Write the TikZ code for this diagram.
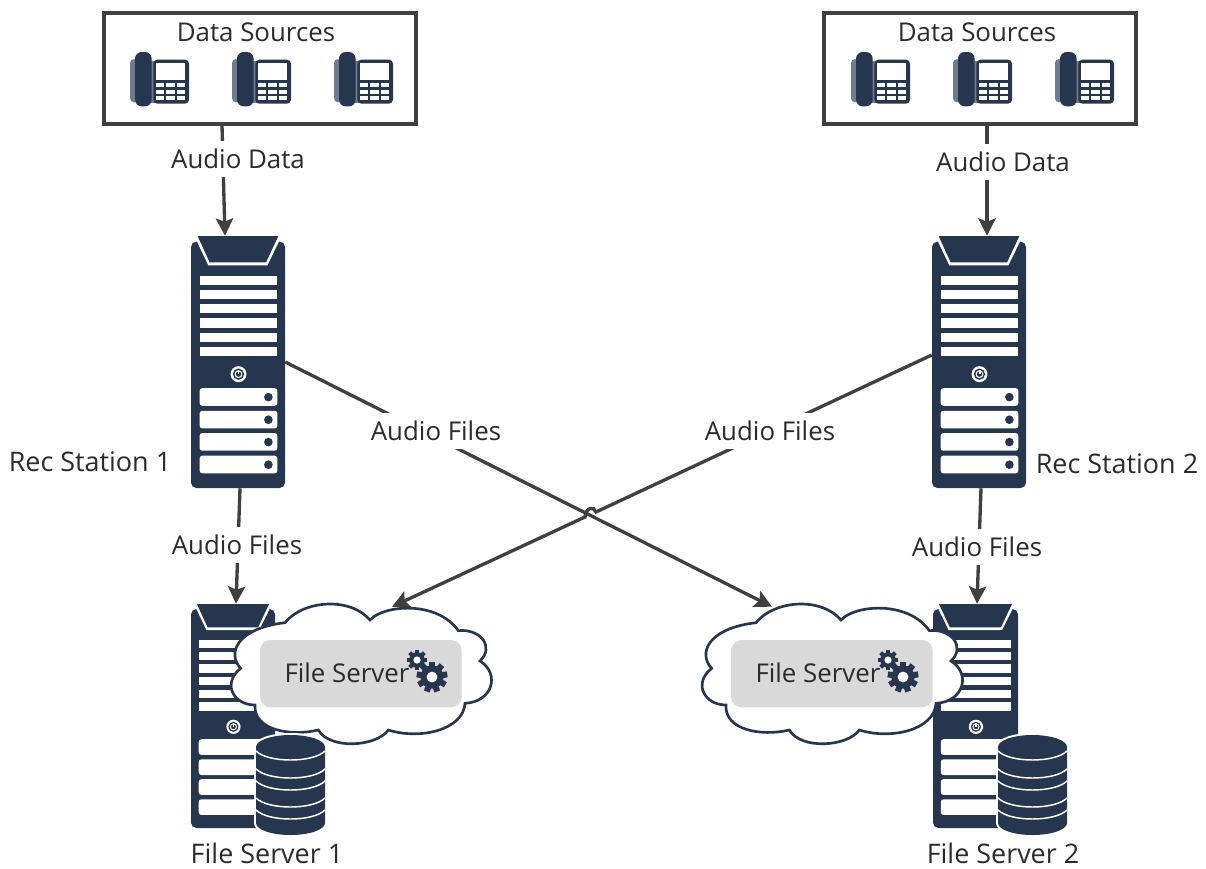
\documentclass[tikz,border=0pt]{standalone}
\usepackage{fontspec}
\setmainfont{Open Sans}
\usetikzlibrary{arrows.meta,calc}
\definecolor{navy}{HTML}{26364F}
\definecolor{navylt}{HTML}{6F7C90}
\definecolor{linec}{HTML}{404040}
\definecolor{panel}{HTML}{D9D9D9}
\definecolor{txt}{HTML}{2B2B2B}
\tikzset{
  conn/.style={draw=linec,line width=2.5pt},
  arrowconn/.style={conn,-{Stealth[length=13pt,width=13pt,inset=2.5pt]}},
  lbl/.style={font=\fontsize{19.4}{22}\selectfont,text=txt,inner sep=0pt},
  lblb/.style={font=\fontsize{20.2}{22}\selectfont,text=txt,inner sep=0pt},
  lblw/.style={lbl,fill=white,inner ysep=6pt,inner xsep=1pt},
  srcbox/.style={draw=linec,line width=2.6pt,inner sep=0pt,minimum width=234pt,minimum height=83pt},
}
\newcommand{\srvicon}[4]{%
\begin{scope}[shift={(#1,#2)},xscale=#3/283,yscale=#4/757,shift={(-62,-18)}]
  \fill[navy,rounded corners=4pt] (62,35) rectangle (345,775);
  \fill[white] (72,18) -- (335,18) -- (292,106) -- (114,106) -- cycle;
  \fill[navy] (82,18) -- (325,18) -- (288,97) -- (118,97) -- cycle;
  \foreach \a in {138,180,222,265,308,350}{\fill[white] (88,\a) rectangle (322,\a+28);}
  \fill[white] (205,433) circle [x radius=24,y radius=24];
  \fill[navy] (205,433) circle [x radius=17,y radius=17];
  \fill[white] (205,433) circle [x radius=12,y radius=12];
  \fill[navy] (205,433) circle [x radius=8,y radius=8];
  \fill[white] (202,420) rectangle (208,434);
  \foreach \a in {475,543,610,678}{
    \fill[white,rounded corners=2pt] (88,\a) rectangle (322,\a+53);
    \fill[navy] (295,\a+27) circle [x radius=13,y radius=13];
  }
\end{scope}}
\newcommand{\phoneicon}[2]{%
\begin{scope}[shift={(#1,#2)},scale=1/3,shift={(-90,-157)}]
  \fill[navylt,rounded corners=3pt] (90,178) rectangle (112,308);
  \fill[navylt] (150,185) rectangle (168,310);
  \fill[navy,rounded corners=5pt] (105,157) rectangle (155,320);
  \fill[navy,rounded corners=3pt] (160,180) rectangle (267,312);
  \fill[white] (168,190) rectangle (255,240);
  \foreach \a in {250,270,290}{\foreach \b in {168,199,230}{\fill[white] (\b,\a) rectangle (\b+25,\a+12);}}
\end{scope}}
\newcommand{\gearicon}[4]{%
\fill[navy] (#1,#2) circle [radius=#3*0.78];
\foreach \t in {1,...,#4}{\fill[navy,rotate around={360*\t/#4:(#1,#2)}] (#1-#3*0.2,#2-#3*1.03) rectangle (#1+#3*0.2,#2);}
\fill[white] (#1,#2) circle [radius=#3*0.36];}
\newcommand{\cloudicon}[1]{%
\begin{scope}[shift={(170+#1,590)},scale=1/3]
  \fill[white,draw=navy,line width=2pt] (600,90) .. controls (640,45) and (800,30) .. (865,122)
    .. controls (930,115) and (975,170) .. (930,213)
    .. controls (990,250) and (970,335) .. (885,340)
    .. controls (880,420) and (750,450) .. (655,420)
    .. controls (620,470) and (480,480) .. (445,420)
    .. controls (360,440) and (250,420) .. (255,345)
    .. controls (190,345) and (155,280) .. (212,235)
    .. controls (170,190) and (200,115) .. (345,98)
    .. controls (400,30) and (540,20) .. (600,90) -- cycle;
  \fill[panel,rounded corners=8pt] (270,150) rectangle (875,352);
\end{scope}}
\newcommand{\cylicon}[1]{%
\begin{scope}[shift={(#1,735)}]
  \draw[white,line width=3pt,fill=white] (0,12) arc [start angle=180,end angle=360,x radius=34.5,y radius=12] -- (69,88) arc [start angle=0,end angle=180,x radius=34.5,y radius=12] -- cycle;
  \fill[navy] (0,12) arc [start angle=180,end angle=360,x radius=34.5,y radius=12] -- (69,88) arc [start angle=0,end angle=180,x radius=34.5,y radius=12] -- cycle;
  \foreach \a in {16,34,46,63,75}{
    \draw[white,line width=1.1pt] (0,\a) .. controls (12,\a+12) and (57,\a+12) .. (69,\a);
  }
\end{scope}}
\begin{document}
\begin{tikzpicture}[x=0.75pt,y=-0.75pt]
\useasboundingbox (0,0) rectangle (1206,868);
% boxes
\node[srcbox] (ds1) at (260,68.5) {};
\node[srcbox] (ds2) at (980,68.5) {};
\node[lbl] (dst1) at (256,32) {Data Sources};
\node[lbl] (dst2) at (977,32) {Data Sources};
\foreach \x in {130,232,334,851,953,1055}{\phoneicon{\x}{52}}
% servers
\node[inner sep=0pt,minimum width=70.5pt,minimum height=189pt] (rec1) at (238,362) {};
\node[inner sep=0pt,minimum width=70.5pt,minimum height=189pt] (rec2) at (979,362) {};
\node[inner sep=0pt,minimum width=63pt,minimum height=168pt] (fs1) at (233,716) {};
\node[inner sep=0pt,minimum width=63pt,minimum height=168pt] (fs2) at (975.5,716) {};
\srvicon{191}{236}{94}{252}
\srvicon{932}{236}{94}{252}
\srvicon{191}{604}{84}{224}
\srvicon{933}{604}{85}{224}
\cloudicon{0}
\cloudicon{471}
\node[inner sep=0pt,minimum width=198pt,minimum height=105pt] (cl1) at (362,674) {};
\node[inner sep=0pt,minimum width=198pt,minimum height=105pt] (cl2) at (833,674) {};
\cylicon{256}
\cylicon{998}
\node[lbl] (fst1) at (347,673) {File Server};
\node[lbl] (fst2) at (818,673) {File Server};
\gearicon{417}{660}{10}{8}
\gearicon{432}{677}{15}{9}
\gearicon{888}{660}{10}{8}
\gearicon{903}{677}{15}{9}
% connectors
\draw[arrowconn] ($(ds1.south)+(-38,0)$) -- ($(rec1.north)+(-13,0)$);
\draw[arrowconn] ($(ds2.south)+(7,0)$) -- ($(rec2.north)+(8,0)$);
\draw[arrowconn] ($(rec1.south)+(2,0)$) -- ($(fs1.north)+(3,0)$);
\draw[arrowconn] ($(rec2.south)+(2,0)$) -- ($(fs2.north)+(1.5,0)$);
\draw[arrowconn] (rec1.east) -- ($(cl2.north)+(-61,3)$);
\draw[arrowconn] ($(rec2.west)+(0,-7)$) -- (596,512) .. controls (594,506) and (586,507) .. (585,517) -- ($(cl1.north)+(30,3)$);
% labels
\node[lblw] (a1) at (238,159) {Audio Data};
\node[lblw] (a2) at (1003,162) {Audio Data};
\node[lblw] (b1) at (237,545) {Audio Files};
\node[lblw] (b2) at (977,547) {Audio Files};
\node[lblw] (c1) at (436,431) {Audio Files};
\node[lblw] (c2) at (770,431) {Audio Files};
\node[lblb] (r1) at (90,462) {Rec Station 1};
\node[lblb] (r2) at (1117,464) {Rec Station 2};
\node[lblb] (f1) at (267,853) {File Server 1};
\node[lblb] (f2) at (1003,853) {File Server 2};
\end{tikzpicture}
\end{document}
